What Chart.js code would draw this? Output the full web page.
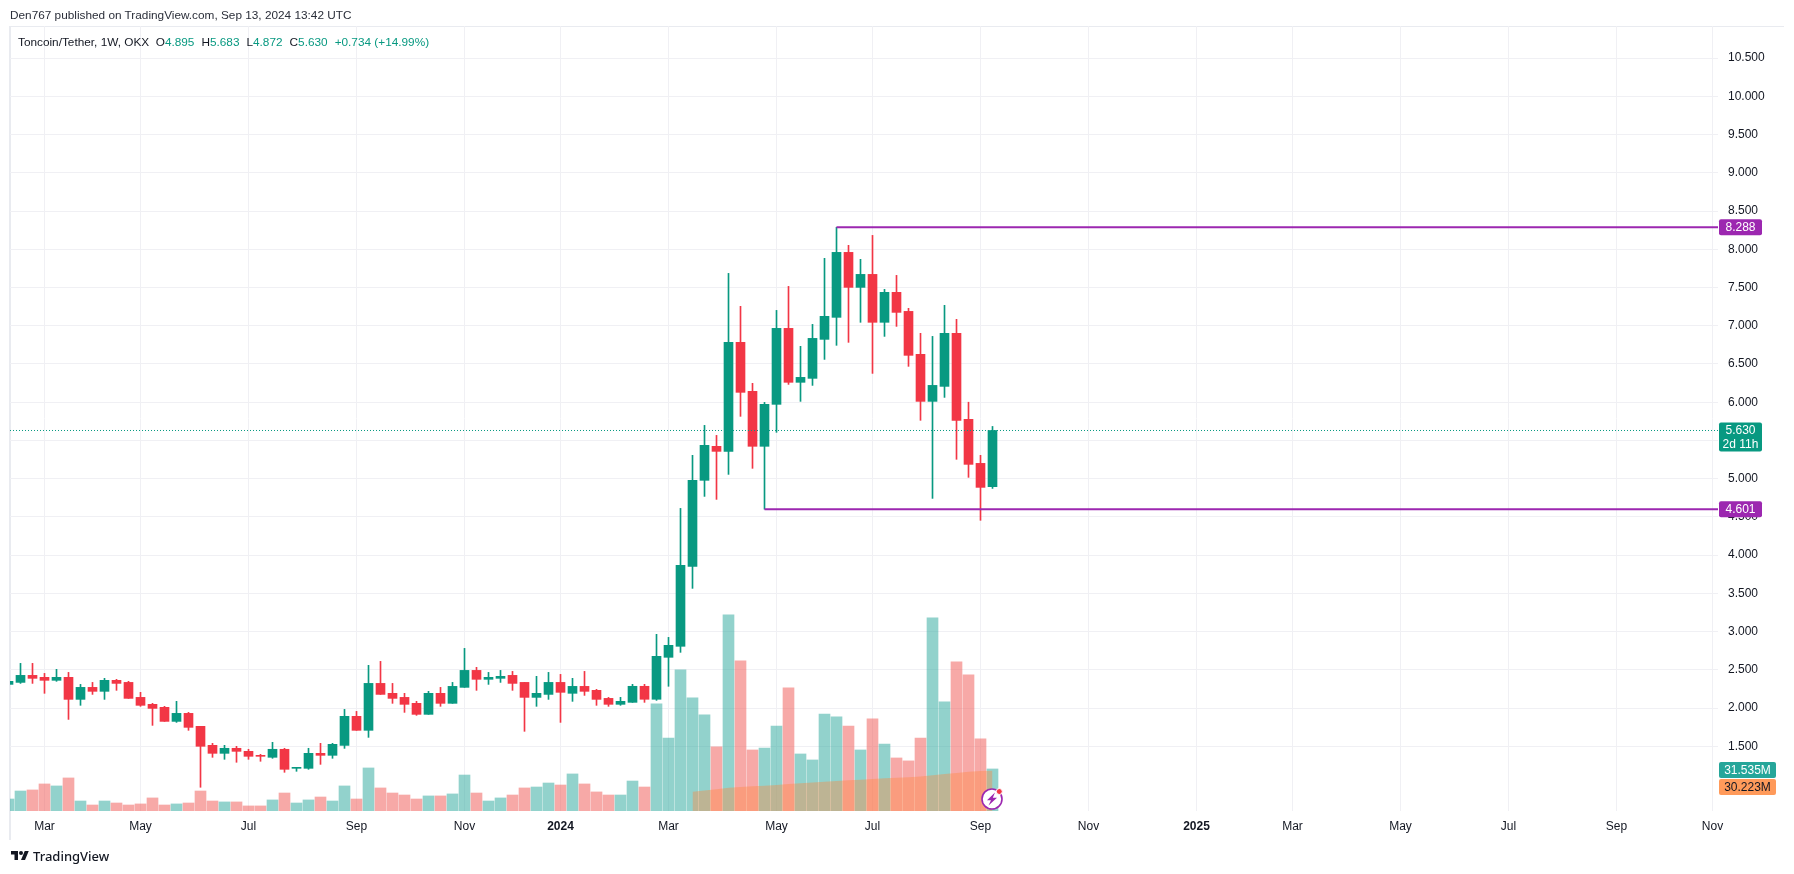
<!DOCTYPE html>
<html>
<head>
<meta charset="utf-8">
<title>Toncoin/Tether</title>
<script src="https://cdn.jsdelivr.net/npm/chart.js@4"></script>
<style>
  html, body { margin: 0; background: #fff; }
  body { position: relative; width: 1794px; height: 874px; overflow: hidden; font-family: "Liberation Sans", sans-serif; color: #131722; }
  canvas { position: absolute; left: 0; top: 0; }
  .note { position: absolute; left: 10px; top: 6px; font-size: 11.8px; line-height: 18px; white-space: nowrap; color: #2a2e39; }
  .legend { position: absolute; left: 18px; top: 33px; font-size: 11.8px; line-height: 18px; white-space: nowrap; }
  .legend b { font-weight: 400; color: #089981; margin-right: 7px; }
  .brand { position: absolute; left: 10px; top: 848px; height: 16px; font-family: "Noto Sans", sans-serif; font-size: 13px; font-weight: 500; line-height: 16px; }
  .brand svg { position: absolute; left: 0; top: 1px; }
  .brand span { position: absolute; left: 23px; top: 0; white-space: nowrap; }
  .flash { position: absolute; left: 980px; top: 787px; }
</style>
</head>
<body>
<canvas id="chart" width="1794" height="874"></canvas>
<div class="note">Den767 published on TradingView.com, Sep 13, 2024 13:42 UTC</div>
<div class="legend">Toncoin/Tether, 1W, OKX &nbsp;O<b>4.895</b>H<b>5.683</b>L<b>4.872</b>C<b>5.630</b><b>+0.734 (+14.99%)</b></div>
<div class="brand">
  <svg width="20" height="14" viewBox="0 0 36 28"><path d="M14 22H7V11H0V4h14v18zM28 22h-8l7.5-18h8L28 22z" fill="#131722"/><circle cx="20" cy="8" r="4" fill="#131722"/></svg>
  <span>TradingView</span>
</div>
<svg class="flash" width="24" height="24" viewBox="0 0 24 24">
  <circle cx="12" cy="12" r="10" fill="#fff" stroke="#9c27b0" stroke-width="1.6"/>
  <path d="M15 5.5 L7 13.2 H11 L8.5 18.5 L17 10.8 H12.8 Z" fill="#9c27b0"/>
  <circle cx="19.3" cy="4.5" r="3" fill="#f23645" stroke="#fff" stroke-width="1"/>
</svg>
<script>
// weekly candles, first one is cut by the left edge of the chart
const opens = [2.309,
  2.335, 2.427, 2.401, 2.362, 2.401, 2.113, 2.270, 2.218, 2.362, 2.335,
  2.139, 2.048, 2.009, 1.825, 1.930, 1.760, 1.512, 1.407, 1.473, 1.433,
  1.381, 1.355, 1.460, 1.211, 1.211, 1.407, 1.381, 1.511, 1.891, 1.708,
  2.322, 2.192, 2.139, 2.061, 1.917, 2.192, 2.061, 2.270, 2.492, 2.375,
  2.388, 2.427, 2.335, 2.139, 2.178, 2.335, 2.192, 2.283, 2.231, 2.126,
  2.048, 2.074, 2.284, 2.114, 2.663, 2.807, 3.853, 4.978, 5.423, 5.357,
  6.783, 6.142, 5.423, 5.972, 6.966, 6.260, 6.312, 6.822, 7.110, 7.960,
  7.502, 7.672, 7.045, 7.437, 7.188, 6.626, 6.011, 6.207, 6.901, 5.776,
  5.200, 4.895];
const highs = [2.349,
  2.584, 2.584, 2.453, 2.506, 2.466, 2.309, 2.335, 2.388, 2.375, 2.349,
  2.205, 2.061, 2.022, 2.087, 1.943, 1.760, 1.538, 1.512, 1.499, 1.460,
  1.394, 1.551, 1.473, 1.224, 1.473, 1.538, 1.538, 1.982, 1.956, 2.558,
  2.610, 2.322, 2.192, 2.087, 2.218, 2.270, 2.335, 2.780, 2.532, 2.466,
  2.492, 2.479, 2.335, 2.414, 2.466, 2.440, 2.388, 2.479, 2.244, 2.139,
  2.140, 2.310, 2.310, 2.964, 2.924, 4.611, 5.305, 5.697, 5.566, 7.685,
  7.254, 6.247, 5.998, 7.201, 7.515, 6.731, 7.018, 7.882, 8.288, 8.052,
  7.869, 8.182, 7.476, 7.659, 7.228, 6.901, 6.861, 7.267, 7.084, 6.000,
  5.305, 5.683];
const lows = [2.309,
  2.322, 2.322, 2.192, 2.349, 1.851, 2.035, 2.178, 2.113, 2.231, 2.126,
  2.022, 1.773, 1.825, 1.812, 1.708, 0.963, 1.355, 1.329, 1.290, 1.329,
  1.303, 1.342, 1.159, 1.172, 1.198, 1.263, 1.342, 1.472, 1.708, 1.616,
  2.178, 2.061, 1.943, 1.904, 1.917, 2.022, 2.061, 2.270, 2.231, 2.309,
  2.335, 2.231, 1.695, 2.022, 2.113, 1.812, 2.087, 2.165, 2.035, 2.022,
  2.035, 2.074, 2.074, 2.100, 2.284, 2.728, 3.565, 4.768, 4.729, 5.056,
  5.815, 5.135, 4.601, 5.606, 6.233, 6.011, 6.220, 6.560, 6.744, 6.783,
  7.045, 6.377, 6.861, 6.992, 6.469, 5.763, 4.742, 6.063, 5.253, 5.017,
  4.455, 4.872];
const closes = [2.349,
  2.427, 2.388, 2.362, 2.401, 2.113, 2.270, 2.218, 2.362, 2.322, 2.126,
  2.035, 1.995, 1.825, 1.930, 1.747, 1.499, 1.407, 1.473, 1.433, 1.368,
  1.368, 1.460, 1.198, 1.224, 1.407, 1.381, 1.525, 1.891, 1.708, 2.322,
  2.178, 2.126, 2.048, 1.917, 2.192, 2.061, 2.283, 2.492, 2.375, 2.401,
  2.414, 2.322, 2.139, 2.192, 2.335, 2.205, 2.283, 2.218, 2.113, 2.048,
  2.087, 2.284, 2.114, 2.676, 2.820, 3.866, 4.978, 5.436, 5.357, 6.783,
  6.129, 5.423, 5.972, 6.966, 6.260, 6.325, 6.835, 7.123, 7.960, 7.502,
  7.672, 7.045, 7.437, 7.175, 6.613, 6.011, 6.220, 6.901, 5.763, 5.187,
  4.886, 5.630];
const volumes = [9.0,
  15.0, 15.8, 20.3, 18.8, 24.8, 7.5, 4.5, 7.5, 6.0, 4.5,
  5.3, 9.8, 4.5, 5.3, 6.0, 15.0, 7.5, 6.8, 6.8, 3.8,
  3.8, 8.3, 13.5, 6.0, 8.3, 10.5, 7.5, 18.8, 9.0, 32.3,
  17.3, 13.5, 12.0, 9.0, 11.3, 11.3, 12.8, 27.0, 13.5, 7.5,
  9.8, 12.0, 17.3, 18.0, 21.0, 19.5, 27.8, 20.3, 14.3, 12.0,
  12.0, 22.5, 18.0, 80.4, 54.8, 105.9, 84.9, 72.1, 48.1, 147.2,
  112.6, 45.8, 47.3, 63.8, 92.4, 42.8, 38.3, 72.8, 70.6, 63.8,
  45.8, 69.1, 50.3, 39.8, 37.6, 54.8, 144.9, 81.9, 111.9, 102.1,
  54.1, 31.535];
// volume moving average, only known from week 56 on
const volumeMaStart = 56;
const volumeMa = [14.5, 15.3, 16.3, 17.5, 18.0, 18.5, 19.0, 19.5, 20.3, 20.8,
  21.3, 22.0, 22.5, 23.0, 23.5, 24.0, 24.5, 25.0, 25.3, 25.8,
  26.8, 27.8, 28.5, 29.5, 30.0, 30.223];

const tickWeeks = [2, 10, 19, 28, 37, 45, 54, 63, 71, 80, 89, 98, 106, 115, 124, 133, 141];
const tickLabels = ['Mar', 'May', 'Jul', 'Sep', 'Nov', '2024', 'Mar', 'May', 'Jul', 'Sep', 'Nov', '2025', 'Mar', 'May', 'Jul', 'Sep', 'Nov'];
const priceTicks = [1.5, 2, 2.5, 3, 3.5, 4, 4.5, 5, 5.5, 6, 6.5, 7, 7.5, 8, 8.5, 9, 9.5, 10, 10.5];

const resistance = { price: 8.288, fromWeek: 68 };
const support = { price: 4.601, fromWeek: 62 };
const lastPrice = 5.630;
const lastVolume = 31.535;
const lastVolumeMa = 30.223;
const countdown = '2d 11h';

const UP = '#089981', DOWN = '#f23645', PURPLE = '#9c27b0';
const VOL_UP = 'rgba(38,166,154,0.5)', VOL_DOWN = 'rgba(239,83,80,0.5)';
const GRID = '#f0f0f4';
const FONT = '"Liberation Sans", sans-serif';
const X_MIN = -0.875, X_MAX = 141.458;

const week = i => i - 1;
const isUp = i => closes[i] >= opens[i];
const candleColors = opens.map((o, i) => isUp(i) ? UP : DOWN);
const volumeColors = opens.map((o, i) => isUp(i) ? VOL_UP : VOL_DOWN);

function levelLine(level, color) {
  return {
    type: 'line', yAxisID: 'y', order: 0,
    data: [{ x: level.fromWeek, y: level.price }, { x: X_MAX, y: level.price }],
    borderColor: color, borderWidth: 2, pointRadius: 0
  };
}

function tag(ctx, y, h, w, color, lines, textColor) {
  const left = 1719;
  ctx.fillStyle = color;
  ctx.beginPath();
  ctx.roundRect(left, y, w, h, 2);
  ctx.fill();
  ctx.fillStyle = textColor;
  ctx.textAlign = 'center';
  ctx.textBaseline = 'middle';
  ctx.font = '12px ' + FONT;
  lines.forEach((t, n) => ctx.fillText(t, left + w / 2, y + (n + 0.5) * h / lines.length + 0.5));
}

const priceTags = {
  id: 'priceTags',
  afterDraw(chart) {
    const ctx = chart.ctx, py = chart.scales.y;
    ctx.save();
    tag(ctx, py.getPixelForValue(resistance.price) - 8, 16, 43, PURPLE, [resistance.price.toFixed(3)], '#fff');
    tag(ctx, py.getPixelForValue(support.price) - 8, 16, 43, PURPLE, [support.price.toFixed(3)], '#fff');
    tag(ctx, py.getPixelForValue(lastPrice) - 8, 29, 43, UP, [lastPrice.toFixed(3), countdown], '#fff');
    tag(ctx, 762, 16, 57, '#26a69a', [lastVolume.toFixed(3) + 'M'], '#fff');
    tag(ctx, 779, 16, 57, '#ff9a5a', [lastVolumeMa.toFixed(3) + 'M'], '#131722');
    ctx.restore();
  }
};

const frame = {
  id: 'frame',
  beforeDraw(chart) {
    const ctx = chart.ctx;
    ctx.save();
    ctx.fillStyle = '#e9ebf0';
    ctx.fillRect(9, 26, 2, 814);
    ctx.fillRect(9, 26, 1775, 1);
    ctx.restore();
  }
};

new Chart(document.getElementById('chart'), {
  type: 'bar',
  data: {
    datasets: [
      {
        data: opens.map((o, i) => ({ x: week(i), y: [o, closes[i]] })),
        yAxisID: 'y', order: 1, grouped: false,
        backgroundColor: candleColors, barThickness: 9
      },
      {
        data: highs.map((h, i) => ({ x: week(i), y: [lows[i], h] })),
        yAxisID: 'y', order: 2, grouped: false,
        backgroundColor: candleColors, barThickness: 1
      },
      {
        data: volumes.map((v, i) => ({ x: week(i), y: v })),
        yAxisID: 'yVol', order: 4, grouped: false,
        backgroundColor: volumeColors, barThickness: 11
      },
      {
        type: 'line', yAxisID: 'yVol', order: 3,
        data: volumeMa.map((v, i) => ({ x: volumeMaStart + i, y: v })),
        borderWidth: 0, pointRadius: 0,
        fill: 'origin', backgroundColor: 'rgba(255,138,65,0.4)'
      },
      levelLine(resistance, PURPLE),
      levelLine(support, PURPLE),
      {
        type: 'line', yAxisID: 'y', order: 0,
        data: [{ x: X_MIN, y: lastPrice }, { x: X_MAX, y: lastPrice }],
        borderColor: UP, borderWidth: 1, borderDash: [1, 2], pointRadius: 0
      }
    ]
  },
  options: {
    responsive: false,
    animation: false,
    layout: { padding: { left: 10, top: 26, right: 0, bottom: 0 } },
    plugins: { legend: { display: false }, tooltip: { enabled: false } },
    scales: {
      x: {
        type: 'linear', min: X_MIN, max: X_MAX, offset: false,
        afterBuildTicks: s => { s.ticks = tickWeeks.map(v => ({ value: v })); },
        afterFit: s => { s.height = 63; },
        grid: { color: GRID, drawTicks: false, offset: false },
        border: { display: false },
        ticks: {
          autoSkip: false, maxRotation: 0, padding: 8, color: '#131722',
          callback: v => tickLabels[tickWeeks.indexOf(v)],
          font: c => ({ family: FONT, size: 12, weight: c.tick && /^\d/.test(c.tick.label) ? '700' : '400' })
        }
      },
      y: {
        position: 'right', min: 0.6528, max: 10.921,
        afterBuildTicks: s => { s.ticks = priceTicks.map(v => ({ value: v })); },
        afterFit: s => { s.width = 76; },
        grid: { color: GRID, drawTicks: false },
        border: { display: false },
        ticks: {
          padding: 10, color: '#131722', crossAlign: 'near',
          callback: v => v.toFixed(3),
          font: { family: FONT, size: 12 }
        }
      },
      yVol: { display: false, min: 0, max: 589, grid: { display: false } }
    }
  },
  plugins: [frame, priceTags]
});
</script>
</body>
</html>
